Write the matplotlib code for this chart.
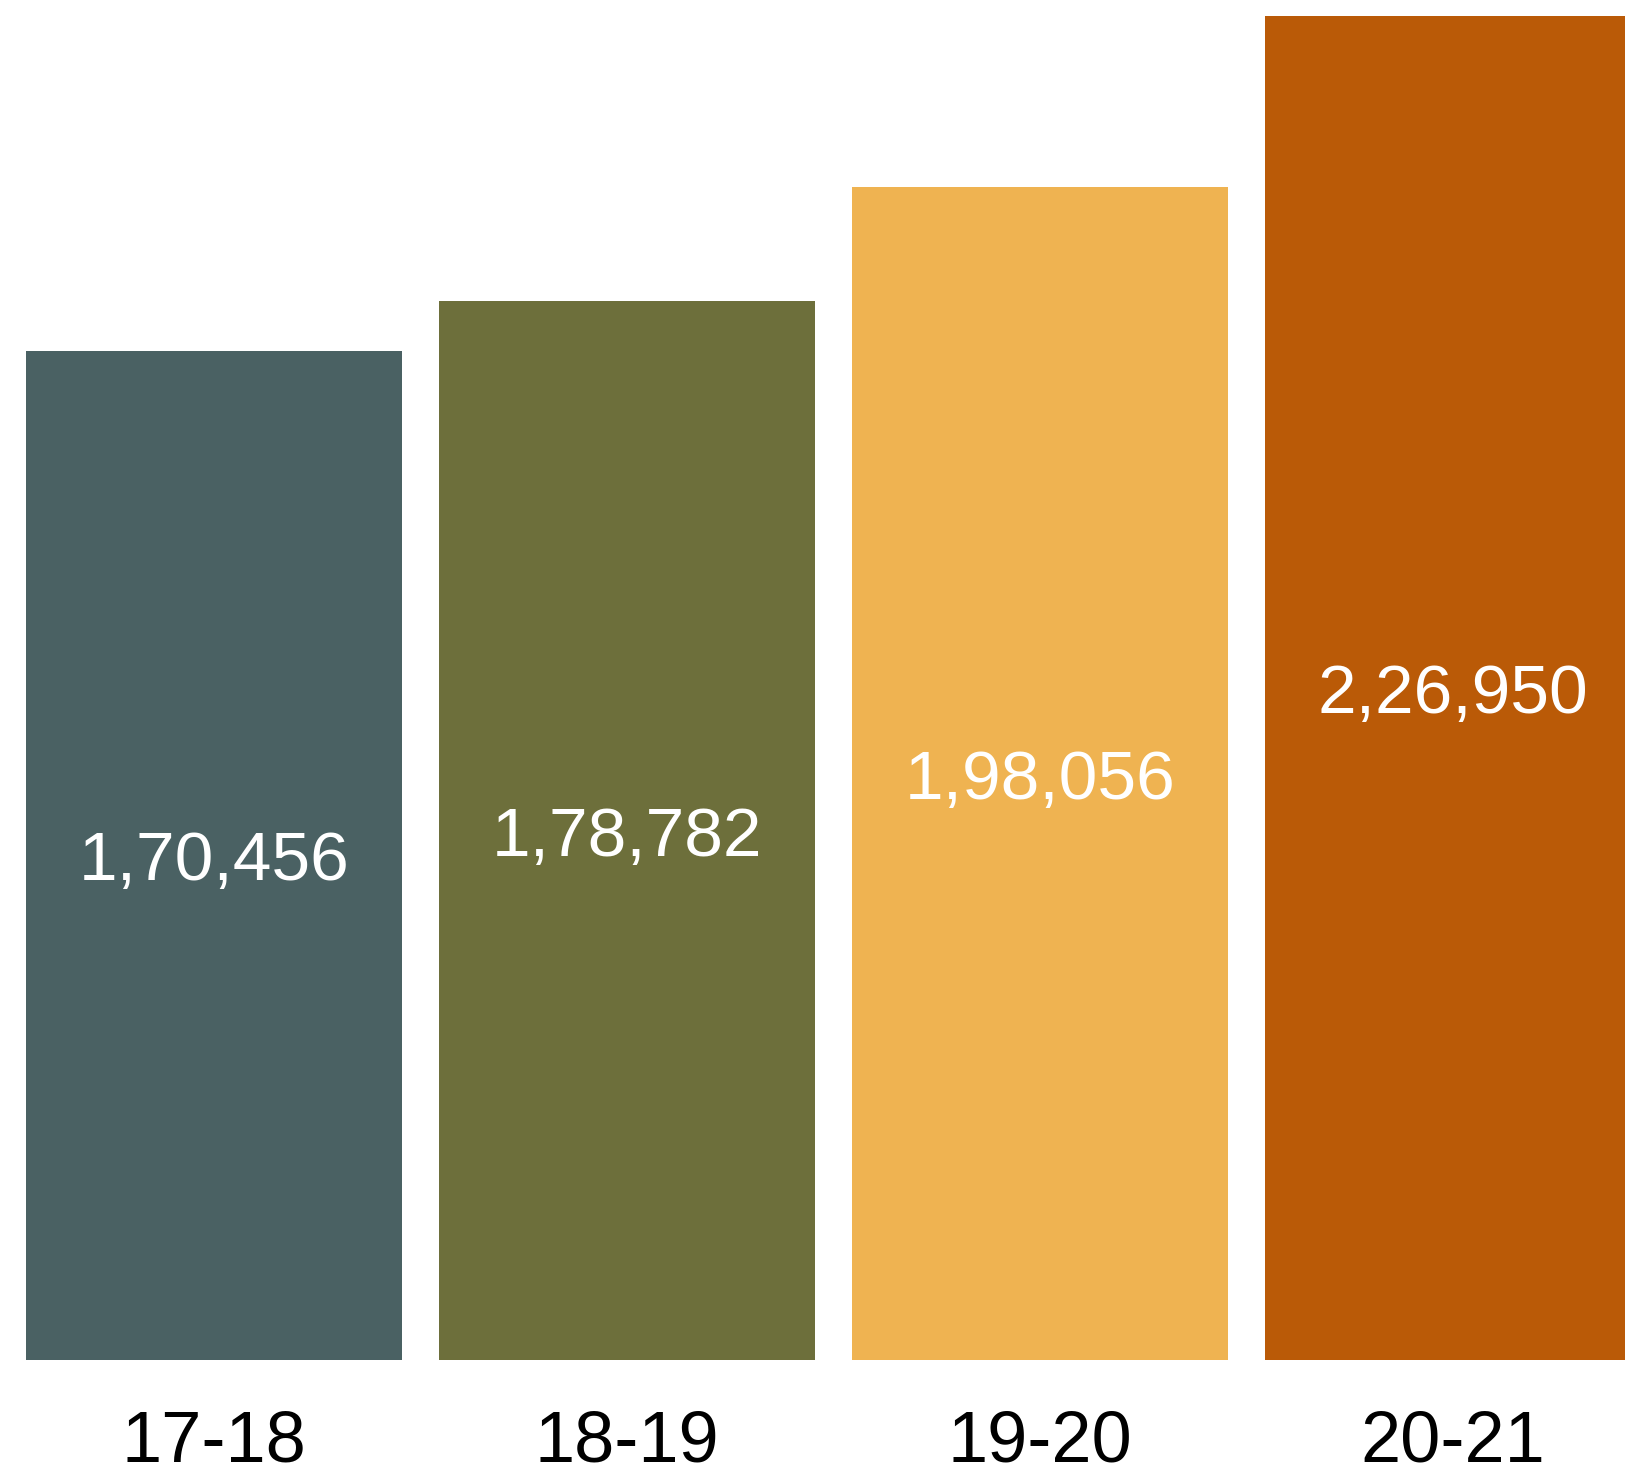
import matplotlib
matplotlib.use("Agg")
import matplotlib.pyplot as plt

# ==========================
# Data
# ==========================

years = ["17-18", "18-19", "19-20", "20-21"]
values = [170456, 178782, 198056, 226950]
labels = ["1,70,456", "1,78,782", "1,98,056", "2,26,950"]
colors = ["#4A6163", "#6D6F3B", "#EFB351", "#BA5A07"]

plt.rcParams["font.family"] = ["Liberation Sans", "DejaVu Sans"]

# ==========================
# Figure
# ==========================

fig = plt.figure(figsize=(16.25, 14.73), dpi=100)
ax = fig.add_axes([0, 113 / 1473, 1, 1360 / 1473])

x = list(range(len(years)))
bars = ax.bar(x, values, width=0.91, color=colors)

for xi, v, lab in zip(x, values, labels):
    ax.text(xi, v / 2, lab, ha="center", va="center_baseline",
            color="white", fontsize=50)

ax.set_xlim(-0.518, 3.417)
ax.set_ylim(0, 226950 * 1360 / 1344)

ax.set_xticks(x)
ax.set_xticklabels(years, fontsize=52)
ax.tick_params(axis="x", length=0, pad=36)
ax.set_yticks([])

for s in ax.spines.values():
    s.set_visible(False)

fig.savefig("out.png", dpi=100, facecolor="white")
